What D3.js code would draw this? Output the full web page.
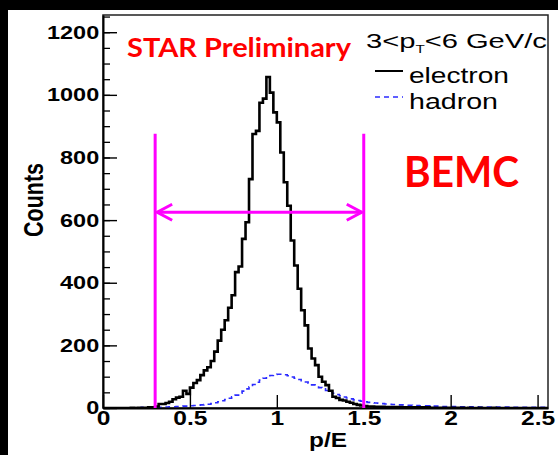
<!DOCTYPE html>
<html><head><meta charset="utf-8">
<script src="https://cdn.jsdelivr.net/npm/d3@7"></script>
<style>html,body{margin:0;padding:0;background:#000;} svg{display:block}</style>
</head><body>
<svg id="c" width="558" height="455"></svg>
<script>
// ---- data ----
const binWidth = 0.02;
const xRange = [0, 2.56];
const yMax = 1255;
const electron = [
  0,0,0,0,0, 0,0,0,1,0, 1,1,1,2,2,
  5,13,13,16,20,
  28,33,36,55,45,
  65,80,89,105,120,
  130,150,180,215,250,
  280,320,360,434,452,
  540,593,731,875,885,
  975,988,1057,1007,944,
  912,816,721,646,535,
  455,381,312,264,190,
  158,137,100,84,73,
  55,36,32,26,24,
  20,17,13,10,8,
  6,5,5,4,4,
  4,3,3,3,3,
  3,2,2,2,2,
  2,2,2,2,1,
  1,1,1,1,1,
  1,1,1,1,0, 1,0,0,1,0, 0,0,1,0,0, 0,0,0,0,0, 0,0,0,0,0, 0,0,0
];
const hadron = [
  1,1,1,1,1, 1,1,1,1,1, 1,2,2,2,2,
  2,2,3,3,4,
  4,5,5,6,6,
  7,8,9,10,11,
  12,14,17,20,23,
  27,31,36,41,47,
  54,61,68,75,82,
  89,95,100,104,107,
  108,108,106,103,99,
  95,91,87,83,79,
  74,70,65,61,56,
  52,47,43,39,35,
  32,29,26,24,22,
  20,18,17,16,15,
  14,13,12,11,11,
  10,10,9,9,8,
  8,7,7,7,6,
  6,6,5,5,5,
  5,5,4,4,4, 4,4,4,3,3, 3,3,3,3,3, 3,3,2,2,2, 2,2,2,2,2, 2,2,2
];
const xTicks = [0, 0.5, 1, 1.5, 2, 2.5];
const xTickLabels = ["0", "0.5", "1", "1.5", "2", "2.5"];
const yTicks = [0, 200, 400, 600, 800, 1000, 1200];
const yTickLabels = ["0", "200", "400", "600", "800", "1000", "1200"];
const yMinorStep = 50;
const cuts = [0.3, 1.5];
const cutTop = 876;
const arrowLevel = 625;
const legendTitle = ["3<p", "T", "<6 GeV/c"];
const legendLabels = ["electron", "hadron"];

// ---- drawing ----
const svg = d3.select("#c");
svg.append("rect").attr("width", 558).attr("height", 455).attr("fill", "#000");
svg.append("rect").attr("x", 8).attr("y", 10).attr("width", 550).attr("height", 445).attr("fill", "#fff");

const x = d3.scaleLinear().domain(xRange).range([103, 548]);
const y = d3.scaleLinear().domain([0, yMax]).range([408, 15]);
const AX = "Liberation Sans, Arial, Helvetica, sans-serif";

svg.append("defs").append("clipPath").attr("id", "clip")
  .append("rect").attr("x", x(0)).attr("y", y(yMax)).attr("width", x(xRange[1]) - x(0)).attr("height", y(0) - y(yMax));

// frame
svg.append("rect").attr("x", x(0)).attr("y", y(yMax)).attr("width", x(xRange[1]) - x(0)).attr("height", y(0) - y(yMax))
  .attr("fill", "none").attr("stroke", "#222").attr("stroke-width", 1.5);

// histograms
const pts = arr => arr.map((v, i) => [i * binWidth, v]).concat([[arr.length * binWidth, arr[arr.length - 1]]]);
const line = d3.line().x(d => x(d[0])).y(d => y(d[1])).curve(d3.curveStepAfter);
const plot = svg.append("g").attr("clip-path", "url(#clip)");
plot.append("path").attr("d", line(pts(hadron))).attr("fill", "none")
  .attr("stroke", "#2b2bff").attr("stroke-width", 1.6).attr("stroke-dasharray", "5,4");
plot.append("path").attr("d", line(pts(electron))).attr("fill", "none")
  .attr("stroke", "#000").attr("stroke-width", 2.6).attr("stroke-linejoin", "miter");

// y minor ticks
svg.append("g").attr("transform", `translate(${x(0)},0)`)
  .call(d3.axisLeft(y).tickValues(d3.range(0, yMax, yMinorStep)).tickSizeInner(-7).tickSizeOuter(0).tickFormat(""))
  .call(g => g.select(".domain").remove())
  .call(g => g.selectAll("line").attr("stroke-width", 1.3));
// y axis
const ya = svg.append("g").attr("transform", `translate(${x(0)},0)`)
  .call(d3.axisLeft(y).tickValues(yTicks).tickSizeInner(-14).tickSizeOuter(0).tickPadding(3)
    .tickFormat((d, i) => yTickLabels[i]));
ya.select(".domain").attr("stroke-width", 2);
ya.selectAll("line").attr("stroke-width", 1.4);
ya.selectAll("text").attr("font-family", AX).attr("font-weight", "bold").attr("font-size", 18.5)
  .attr("fill", "#000").attr("transform", "scale(1.27,1)");

// x axis
const xa = svg.append("g").attr("transform", `translate(0,${y(0)})`)
  .call(d3.axisBottom(x).tickValues(xTicks).tickSizeInner(-13).tickSizeOuter(0).tickPadding(2)
    .tickFormat((d, i) => xTickLabels[i]));
xa.select(".domain").attr("stroke-width", 2);
xa.selectAll("line").attr("stroke-width", 1.4);
xa.selectAll("text").attr("font-family", AX).attr("font-weight", "bold").attr("font-size", 21)
  .attr("fill", "#000").attr("transform", "scale(1.17,1)");

// cut lines + arrow
const M = "#ff00ff";
const cg = svg.append("g").attr("stroke", M).attr("stroke-width", 3).attr("fill", "none");
cuts.forEach(c => cg.append("line").attr("x1", x(c)).attr("x2", x(c)).attr("y1", y(cutTop)).attr("y2", y(0)));
const ya0 = y(arrowLevel), xl = x(cuts[0]) + 2, xr = x(cuts[1]) - 2;
cg.append("line").attr("x1", xl).attr("x2", xr).attr("y1", ya0).attr("y2", ya0);
cg.append("path").attr("d", `M${xl + 15},${ya0 - 8}L${xl},${ya0}L${xl + 15},${ya0 + 8}`);
cg.append("path").attr("d", `M${xr - 15},${ya0 - 8}L${xr},${ya0}L${xr - 15},${ya0 + 8}`);

// text helper
function fitText(parent, txt, px, py, w, o) {
  const t = parent.append("text").attr("font-family", o.family).attr("font-size", o.size)
    .attr("font-weight", o.weight || "normal").attr("fill", o.fill || "#000")
    .attr("text-anchor", o.anchor || "start").text(txt);
  const sx = w / t.node().getComputedTextLength();
  t.attr("transform", `translate(${px},${py}) scale(${sx},1)`);
  return t;
}

// axis titles
fitText(svg, "p/E", 328, 447, 38, {family: AX, size: 21, weight: "bold", anchor: "middle"});
svg.append("text").text("Counts").attr("font-family", AX).attr("font-size", 21.5).attr("font-weight", "bold")
  .attr("text-anchor", "middle").attr("transform", "translate(43,200) scale(1.29,1) rotate(-90)");

// legend
const lt = svg.append("text").attr("font-family", AX).attr("font-size", 21);
lt.append("tspan").text(legendTitle[0]);
lt.append("tspan").text(legendTitle[1]).attr("font-size", 11).attr("dy", 5);
lt.append("tspan").text(legendTitle[2]).attr("dy", -5);
const ltw = lt.node().getComputedTextLength();
lt.attr("transform", `translate(366,48) scale(${181 / ltw},1)`);

svg.append("line").attr("x1", 375).attr("x2", 403).attr("y1", 71).attr("y2", 71).attr("stroke", "#000").attr("stroke-width", 2);
svg.append("line").attr("x1", 375).attr("x2", 403).attr("y1", 97).attr("y2", 97).attr("stroke", "#2b2bff")
  .attr("stroke-width", 1.5).attr("stroke-dasharray", "5,4");
fitText(svg, legendLabels[0], 409, 83, 100, {family: AX, size: 22});
fitText(svg, legendLabels[1], 409, 109, 89, {family: AX, size: 22});

// red annotations
const RF = "Lato, 'Open Sans', sans-serif";
fitText(svg, "STAR Preliminary", 127, 57, 224, {family: RF, size: 26.5, weight: "bold", fill: "#ff0000"});
fitText(svg, "BEMC", 404, 187, 115, {family: RF, size: 42, weight: "bold", fill: "#ff0000"});
</script>
</body></html>
